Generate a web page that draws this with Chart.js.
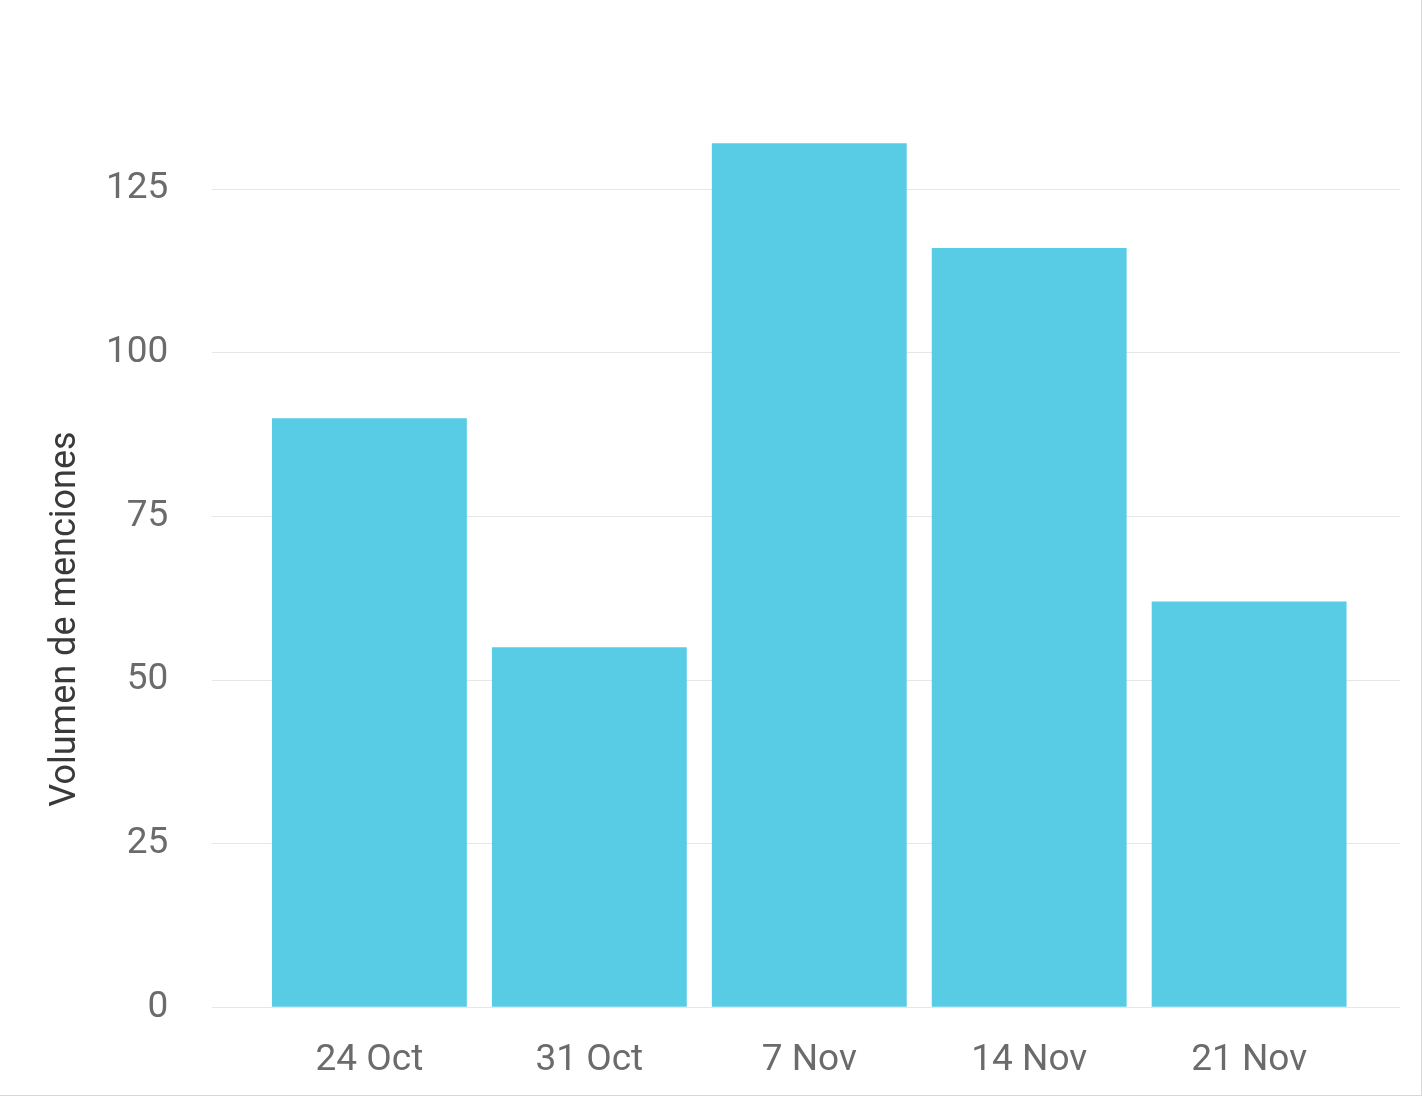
<!DOCTYPE html>
<html>
<head>
<meta charset="utf-8">
<script src="https://cdn.jsdelivr.net/npm/chart.js@4/dist/chart.umd.min.js"></script>
<style>
    html, body { margin: 0; padding: 0; background: #fff; }
    #wrap {
        width: 1421px;
        height: 1095px;
        border-right: 1px solid #d8d8d8;
        border-bottom: 1px solid #d8d8d8;
    }
</style>
</head>
<body>
<div id="wrap"><canvas id="mentionsChart" width="1421" height="1095"></canvas></div>
<script>
const weeks = ["24 Oct", "31 Oct", "7 Nov", "14 Nov", "21 Nov"];
const mentions = [90, 55, 132, 116, 62];
const yTicks = [0, 25, 50, 75, 100, 125];
const yTitle = "Volumen de menciones";

document.addEventListener("DOMContentLoaded", function () {
    // y axis title drawn by hand so it sits where the original has it
    const titlePlugin = {
        id: "yTitle",
        afterDraw(chart) {
            const ctx = chart.ctx;
            ctx.save();
            ctx.translate(66, 619);
            ctx.rotate(-Math.PI / 2);
            ctx.font = "36px Roboto";
            ctx.fillStyle = "#3a3a3a";
            ctx.textAlign = "center";
            ctx.textBaseline = "middle";
            ctx.fillText(yTitle, 0, 0);
            ctx.restore();
        }
    };

    const ctx = document.getElementById("mentionsChart").getContext("2d");
    new Chart(ctx, {
        type: "bar",
        data: {
            datasets: [{
                label: yTitle,
                data: mentions.map((v, i) => ({ x: i, y: v })),
                backgroundColor: "#57cce4",
                borderWidth: 0,
                barPercentage: 0.886,
                categoryPercentage: 1
            }]
        },
        options: {
            responsive: false,
            animation: false,
            layout: { padding: { left: 62, right: 21, top: 91, bottom: -19 } },
            plugins: {
                legend: { display: false },
                tooltip: { enabled: false }
            },
            scales: {
                x: {
                    type: "linear",
                    offset: false,
                    min: -0.714,
                    max: 4.686,
                    grid: { display: false, drawTicks: false },
                    border: { display: false },
                    afterBuildTicks: scale => {
                        scale.ticks = weeks.map((w, i) => ({ value: i }));
                    },
                    ticks: {
                        callback: v => weeks[v],
                        color: "#6b6b6b",
                        font: { family: "Roboto", size: 37, lineHeight: 1.1 },
                        padding: 33,
                        maxRotation: 0,
                        autoSkip: false
                    }
                },
                y: {
                    min: 0,
                    max: 140,
                    grid: { color: "#e6e6e6", lineWidth: 1, drawTicks: false },
                    border: { display: false },
                    afterBuildTicks: scale => {
                        scale.ticks = yTicks.map(v => ({ value: v }));
                    },
                    ticks: {
                        color: "#6b6b6b",
                        font: { family: "Roboto", size: 37 },
                        padding: 44
                    }
                }
            }
        },
        plugins: [titlePlugin]
    });
});
</script>
</body>
</html>
